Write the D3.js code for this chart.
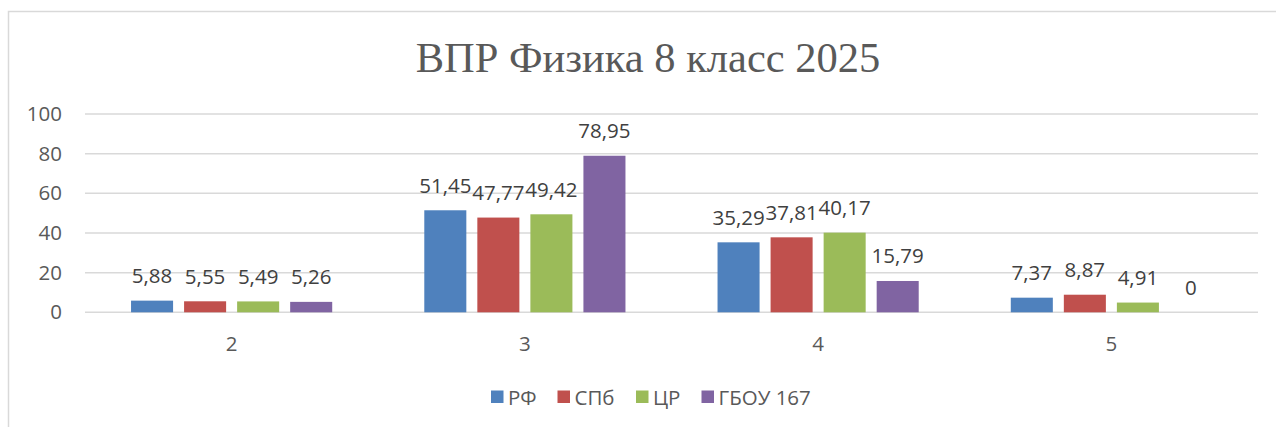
<!DOCTYPE html>
<html>
<head>
<meta charset="utf-8">
<script src="https://cdn.jsdelivr.net/npm/d3@7"></script>
<style>
  html, body { margin: 0; padding: 0; background: #ffffff; }
  svg { display: block; }
</style>
</head>
<body>
<svg id="chart" width="1276" height="427"></svg>
<script>
// Result bands (grades) and the four comparison groups
const categories = ["2", "3", "4", "5"];
const seriesNames = ["РФ", "СПб", "ЦР", "ГБОУ 167"];
const seriesColors = ["#4f81bd", "#c0504d", "#9bbb59", "#8064a2"];

// Percent of students per grade, one array per group
const valuesRF = [5.88, 51.45, 35.29, 7.37];
const valuesSPb = [5.55, 47.77, 37.81, 8.87];
const valuesCR = [5.49, 49.42, 40.17, 4.91];
const valuesSchool = [5.26, 78.95, 15.79, 0];

const yTicks = [0, 20, 40, 60, 80, 100];
const titleText = "ВПР Физика 8 класс 2025";

const seriesValues = [valuesRF, valuesSPb, valuesCR, valuesSchool];
const rows = categories.map((c, i) => ({
  category: c,
  values: seriesNames.map((s, j) => ({ series: s, idx: j, value: seriesValues[j][i] }))
}));

const svg = d3.select("#chart");
const textColor = "#595959";
const gridColor = "#d9d9d9";
const sansFont = "'Open Sans', 'Noto Sans', sans-serif";

// Outer chart frame
svg.append("rect")
  .attr("x", 8.5).attr("y", 11.5)
  .attr("width", 1300).attr("height", 440)
  .attr("fill", "#ffffff")
  .attr("stroke", gridColor)
  .attr("stroke-width", 1.5);

// Title
svg.append("text")
  .attr("x", 648).attr("y", 72)
  .attr("text-anchor", "middle")
  .attr("font-family", "'Liberation Serif', 'Times New Roman', serif")
  .attr("font-size", 42.5)
  .attr("fill", textColor)
  .text(titleText);

// Scales
const plot = { left: 85, right: 1258, top: 114, bottom: 312.3 };
const y = d3.scaleLinear().domain([0, 100]).range([plot.bottom, plot.top]);
const x0 = d3.scaleBand().domain(categories).range([plot.left, plot.right]).padding(0);
const groupPad = x0.bandwidth() * 0.157;
const x1 = d3.scaleBand().domain(seriesNames)
  .range([groupPad, x0.bandwidth() - groupPad])
  .paddingInner(0.2075).paddingOuter(0);

// Horizontal gridlines
svg.append("g").selectAll("line")
  .data(yTicks).join("line")
  .attr("x1", plot.left).attr("x2", plot.right)
  .attr("y1", d => y(d)).attr("y2", d => y(d))
  .attr("stroke", gridColor).attr("stroke-width", 1.5);

// Y axis labels
const yAxis = d3.axisLeft(y).tickValues(yTicks).tickSize(0).tickPadding(0).tickFormat(d3.format("d"));
const yAxisG = svg.append("g").attr("transform", "translate(62,0)").call(yAxis);
yAxisG.select(".domain").remove();
yAxisG.selectAll("text")
  .attr("font-family", sansFont).attr("font-size", 20.5)
  .attr("fill", textColor);

// X axis labels
const xAxis = d3.axisBottom(x0).tickSize(0).tickPadding(0);
const xAxisG = svg.append("g").attr("transform", "translate(0,336)").call(xAxis);
xAxisG.select(".domain").remove();
xAxisG.selectAll("text")
  .attr("font-family", sansFont).attr("font-size", 20.5)
  .attr("fill", textColor);

// Bars
const groups = svg.append("g").selectAll("g")
  .data(rows).join("g")
  .attr("transform", d => `translate(${x0(d.category)},0)`);

groups.selectAll("rect")
  .data(d => d.values).join("rect")
  .attr("x", d => x1(d.series))
  .attr("y", d => y(d.value))
  .attr("width", x1.bandwidth())
  .attr("height", d => y(0) - y(d.value))
  .attr("fill", d => seriesColors[d.idx]);

// Value labels
const fmt = v => d3.format(",.2~f")(v).replace(".", ",");
groups.selectAll("text.val")
  .data(d => d.values).join("text")
  .attr("class", "val")
  .attr("x", d => x1(d.series) + x1.bandwidth() / 2)
  .attr("y", d => y(d.value) - 17.5)
  .attr("text-anchor", "middle")
  .attr("font-family", sansFont).attr("font-size", 20.5)
  .attr("fill", "#404040")
  .text(d => fmt(d.value));

// Legend
const legendItems = [
  { name: seriesNames[0], x: 491 },
  { name: seriesNames[1], x: 557.5 },
  { name: seriesNames[2], x: 636 },
  { name: seriesNames[3], x: 701.5 }
];
const legend = svg.append("g");
const li = legend.selectAll("g").data(legendItems).join("g")
  .attr("transform", d => `translate(${d.x},0)`);
li.append("rect")
  .attr("x", 0).attr("y", 390.5)
  .attr("width", 12.5).attr("height", 12.5)
  .attr("fill", (d, i) => seriesColors[i]);
li.append("text")
  .attr("x", 17).attr("y", 404.5)
  .attr("font-family", sansFont).attr("font-size", 20.5)
  .attr("fill", textColor)
  .text(d => d.name);
</script>
</body>
</html>
